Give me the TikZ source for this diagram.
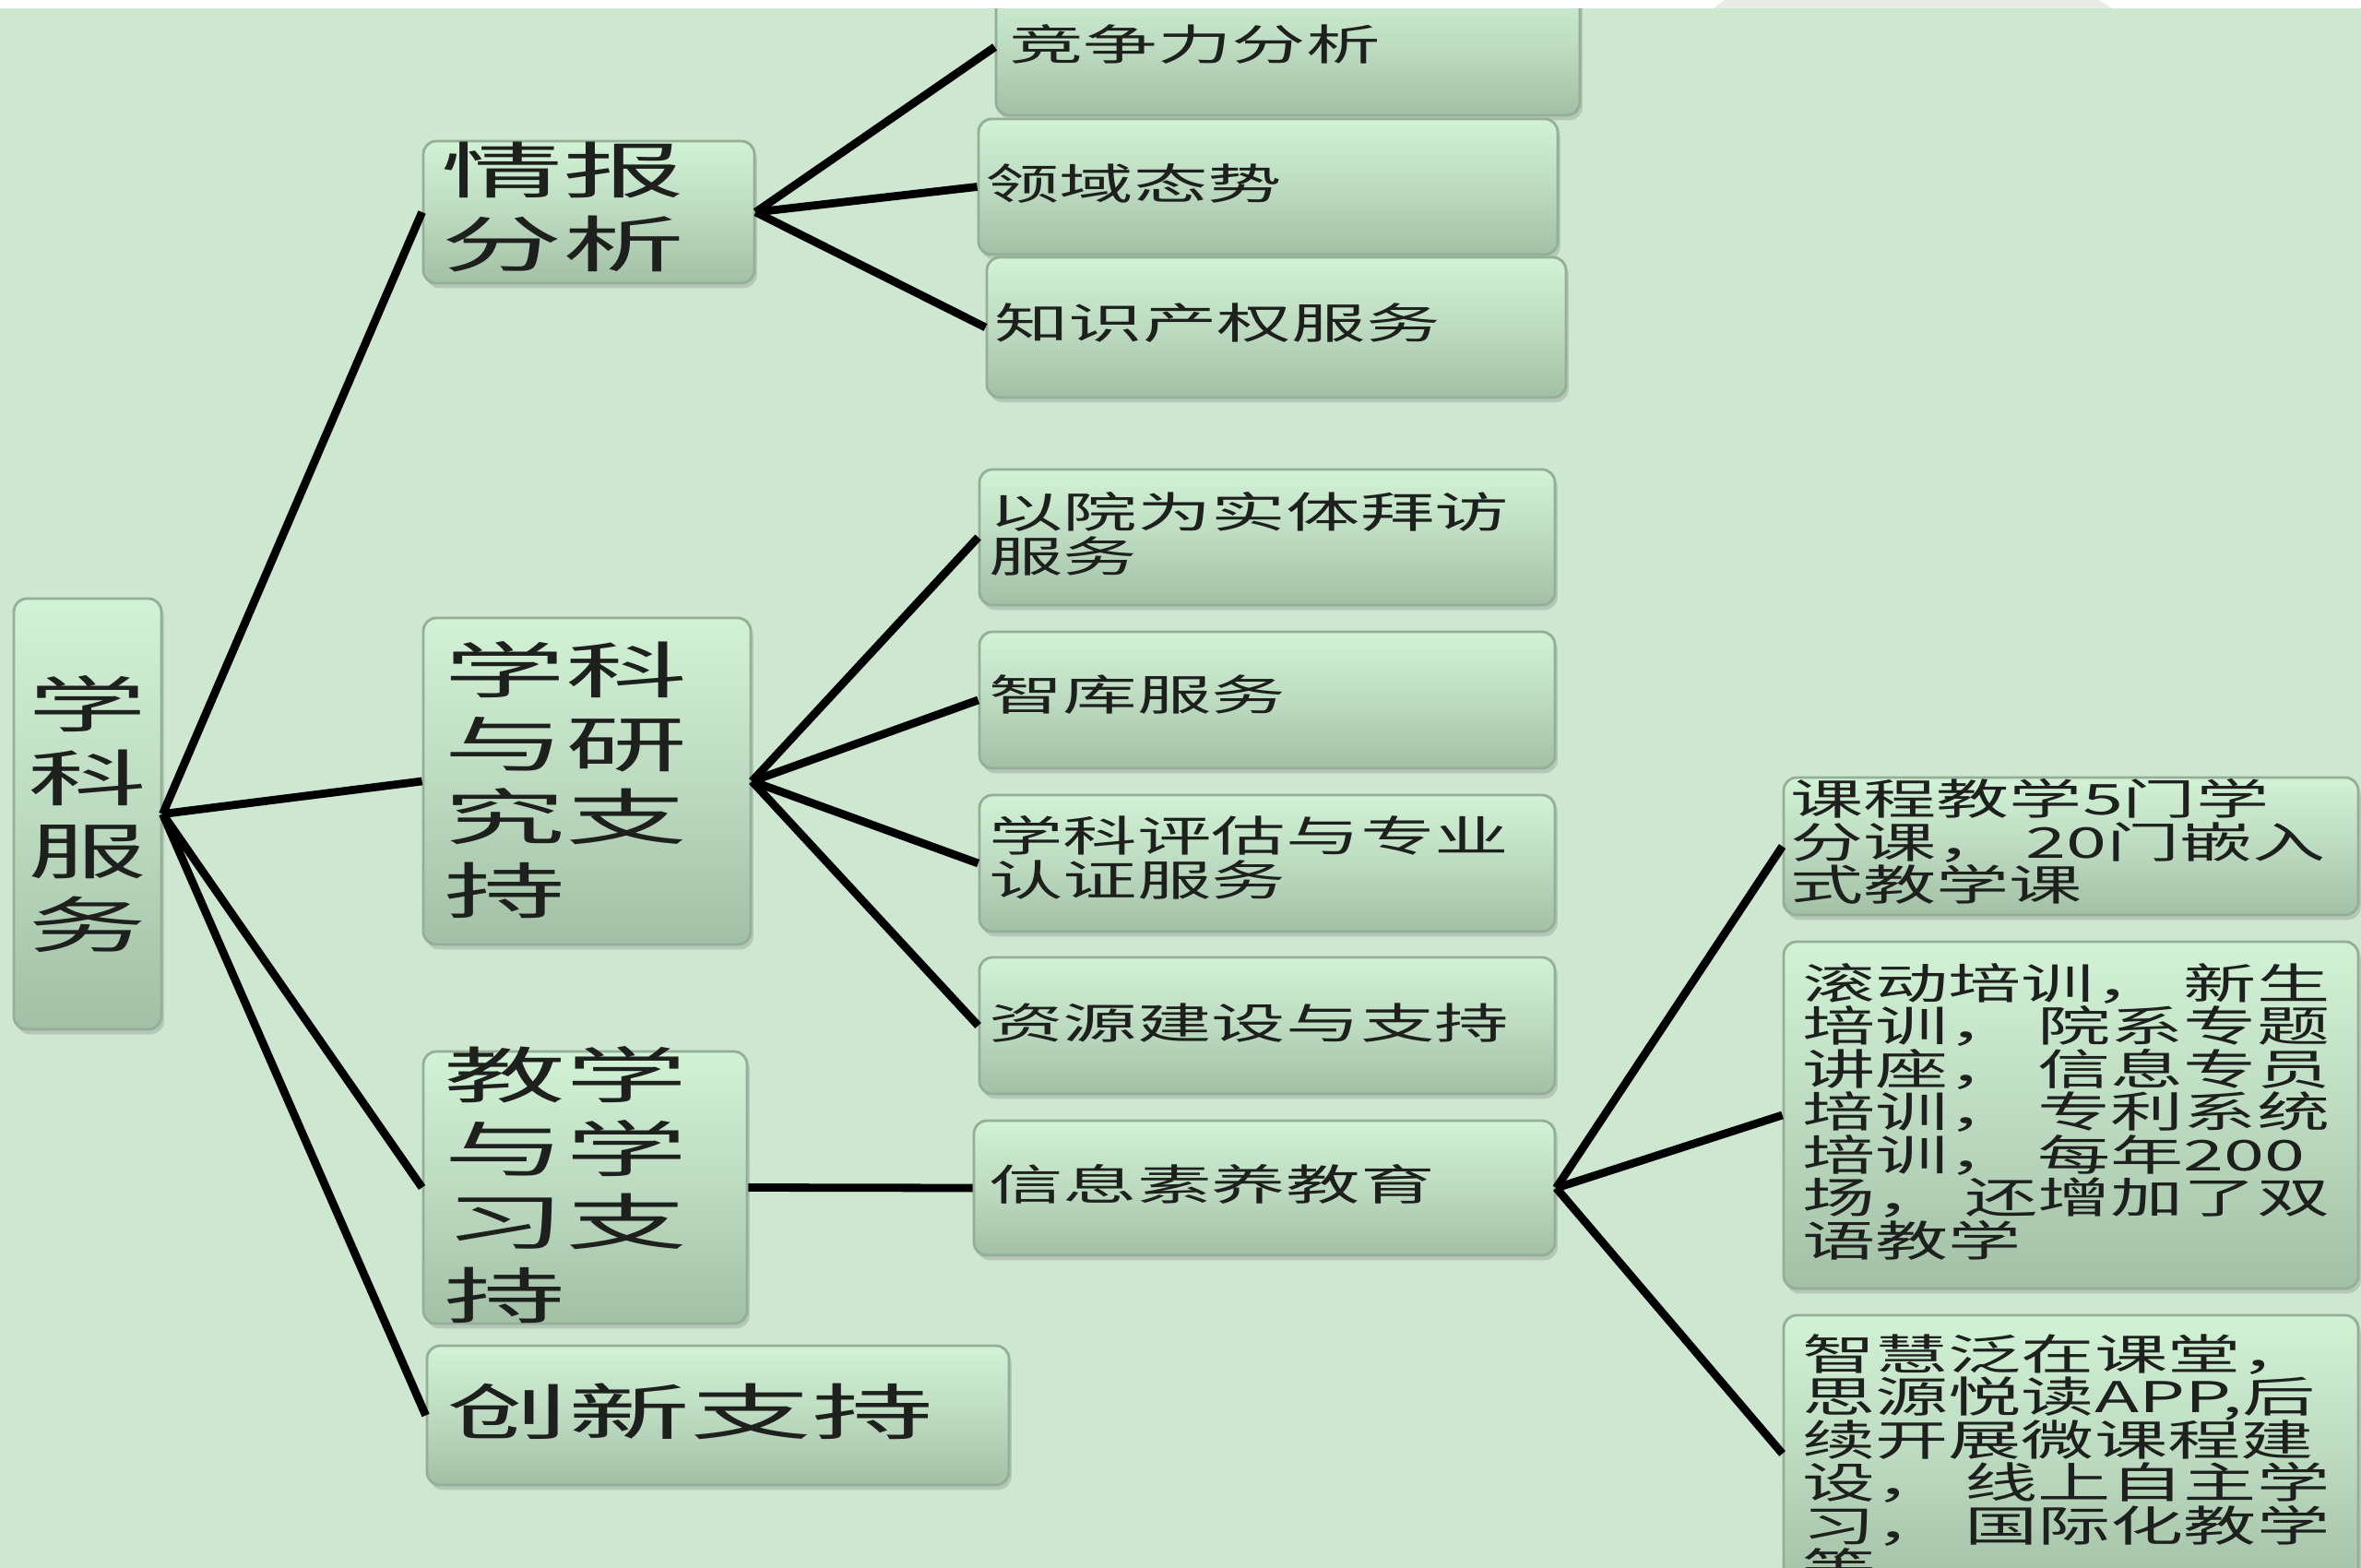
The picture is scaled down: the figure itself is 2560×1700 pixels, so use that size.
\documentclass[tikz,border=0pt]{standalone}
\usepackage{fontspec}
\usepackage{graphicx}
\newfontfamily\cjk{Noto Sans CJK SC}
\usetikzlibrary{calc,fit,shadows}
\definecolor{bgc}{RGB}{205,231,208}
\definecolor{boxtop}{RGB}{210,242,214}
\definecolor{boxmid}{RGB}{188,219,192}
\definecolor{boxbot}{RGB}{162,192,166}
\definecolor{rimc}{RGB}{148,174,152}
\definecolor{txtc}{RGB}{30,32,30}
\definecolor{topgray}{RGB}{232,236,230}
\newcommand{\mylines}[1]{\vtop{\lineskiplimit=-100pt\lineskip=0pt\halign{##\hfil\cr#1\crcr}}}
\newcommand{\bigt}[1]{\scalebox{2}[1]{\mylines{#1}}}
\newcommand{\smallt}[1]{\scalebox{1.75}[1]{\mylines{#1}}}
\newcommand{\rightt}[1]{\scalebox{1.72}[1]{\mylines{#1}}}
\tikzset{
  box/.style={rounded corners=4pt, draw=rimc, line width=0.8pt,
    top color=boxtop, bottom color=boxbot, middle color=boxmid,
    drop shadow={shadow xshift=0.8pt, shadow yshift=-1.5pt, opacity=0.3},
    inner sep=0pt},
  bigfont/.style={font=\cjk\fontsize{18.78pt}{22.6pt}\selectfont, text=txtc, inner sep=0pt},
  smallfont/.style={font=\cjk\fontsize{13.09pt}{13.66pt}\selectfont, text=txtc, inner sep=0pt},
  rightfont/.style={font=\cjk\fontsize{13.09pt}{13.23pt}\selectfont, text=txtc, inner sep=0pt},
  link/.style={line width=2.5pt, black},
}
\begin{document}
\begin{tikzpicture}[x=0.01cm, y=-0.01cm]
\useasboundingbox (0,0) rectangle (2560,1700);
\clip (0,0) rectangle (2560,1700);
\fill[bgc] (0,0) rectangle (2560,1700);

% boxes
\node[box, fit={(15,649) (175,1116)}] (root) {};
\node[box, fit={(459,153) (818,307)}] (qb) {};
\node[box, fit={(459,670) (814,1024)}] (xk) {};
\node[box, fit={(459,1140) (810,1435)}] (jx) {};
\node[box, fit={(463,1459) (1094,1610)}] (cx) {};
\node[box, fit={(1080,-23) (1713,125)}] (jz) {};
\node[box, fit={(1061,129) (1689,276)}] (ly) {};
\node[box, fit={(1070,279) (1698,431)}] (zs) {};
\node[box, fit={(1062,509) (1686,656)}] (yy) {};
\node[box, fit={(1062,685) (1686,833)}] (zk) {};
\node[box, fit={(1062,862) (1686,1010)}] (pg) {};
\node[box, fit={(1062,1038) (1686,1186)}] (zy) {};
\node[box, fit={(1056,1215) (1686,1361)}] (xx) {};
\node[box, fit={(1934,843) (2557,992)}] (kc) {};
\node[box, fit={(1934,1021) (2557,1397)}] (gd) {};
\node[box, fit={(1934,1426) (2557,1726)}] (zh) {};

% texts
\node[bigfont] (t-root) at (root.center) {\scalebox{1.95}[1]{\mylines{学\cr 科\cr 服\cr 务}}};
\node[bigfont, anchor=base west] (t-qb) at ($(qb.north west)+(20,58)$) {\bigt{情报\cr 分析}};
\node[bigfont, anchor=base west] (t-xk) at ($(xk.north west)+(23,83)$) {\bigt{学科\cr 与研\cr 究支\cr 持}};
\node[bigfont, anchor=base west] (t-jx) at ($(jx.north west)+(23,52)$) {\bigt{教学\cr 与学\cr 习支\cr 持}};
\node[bigfont, anchor=base west] (t-cx) at ($(cx.north west)+(22,98)$) {\bigt{创新支持}};

\node[smallfont, anchor=base west] (t-jz) at ($(jz.north west)+(15,89.5)$) {\smallt{竞争力分析}};
\node[smallfont, anchor=base west] (t-ly) at ($(ly.north west)+(8,88.5)$) {\smallt{领域态势}};
\node[smallfont, anchor=base west] (t-zs) at ($(zs.north west)+(9,90)$) {\smallt{知识产权服务}};
\node[smallfont, anchor=base west] (t-yy) at ($(yy.north west)+(11,64.5)$) {\smallt{以院为实体拜访\cr 服务}};
\node[smallfont, anchor=base west] (t-zk) at ($(zk.north west)+(11,86.5)$) {\smallt{智库服务}};
\node[smallfont, anchor=base west] (t-pg) at ($(pg.north west)+(11,63)$) {\smallt{学科评估与专业\cr 认证服务}};
\node[smallfont, anchor=base west] (t-zy) at ($(zy.north west)+(11,89.5)$) {\smallt{资源建设与支持}};
\node[smallfont, anchor=base west] (t-xx) at ($(xx.north west)+(17,87.5)$) {\smallt{信息素养教育}};

\node[rightfont, anchor=base west] (t-kc) at ($(kc.north west)+(8,42)$) {\rightt{课程教学5门学\cr 分课， 20门嵌入\cr 式教学课}};
\node[rightfont, anchor=base west] (t-gd) at ($(gd.north west)+(21,63.5)$) {\rightt{滚动培训， 新生\cr 培训， 院系专题\cr 讲座， 信息专员\cr 培训， 专利系统\cr 培训， 每年200\cr 场， 还增加了双\cr 语教学}};
\node[rightfont, anchor=base west] (t-zh) at ($(zh.north west)+(21,60.5)$) {\rightt{智慧泛在课堂，\cr 思源悦读APP,后\cr 续开展微课程建\cr 设， 线上自主学\cr 习， 国际化教学\cr 等}};

% connectors
\draw[link] (root.east) -- (qb.west);
\draw[link] (root.east) -- (xk.west);
\draw[link] (root.east) -- (jx.west);
\draw[link] (root.east) -- (cx.west);
\draw[link] (qb.east) -- (jz.west);
\draw[link] (qb.east) -- (ly.west);
\draw[link] (qb.east) -- (zs.west);
\draw[link] (xk.east) -- (yy.west);
\draw[link] (xk.east) -- (zk.west);
\draw[link] (xk.east) -- (pg.west);
\draw[link] (xk.east) -- (zy.west);
\draw[link] (jx.east) -- (xx.west);
\draw[link] (xx.east) -- (kc.west);
\draw[link] (xx.east) -- (gd.west);
\draw[link] (xx.east) -- (zh.west);

% top strip
\fill[white] (0,0) rectangle (2560,9);
\fill[topgray] (1870,0) -- (1858,9) -- (2290,9) -- (2276,0) -- cycle;
\end{tikzpicture}
\end{document}
